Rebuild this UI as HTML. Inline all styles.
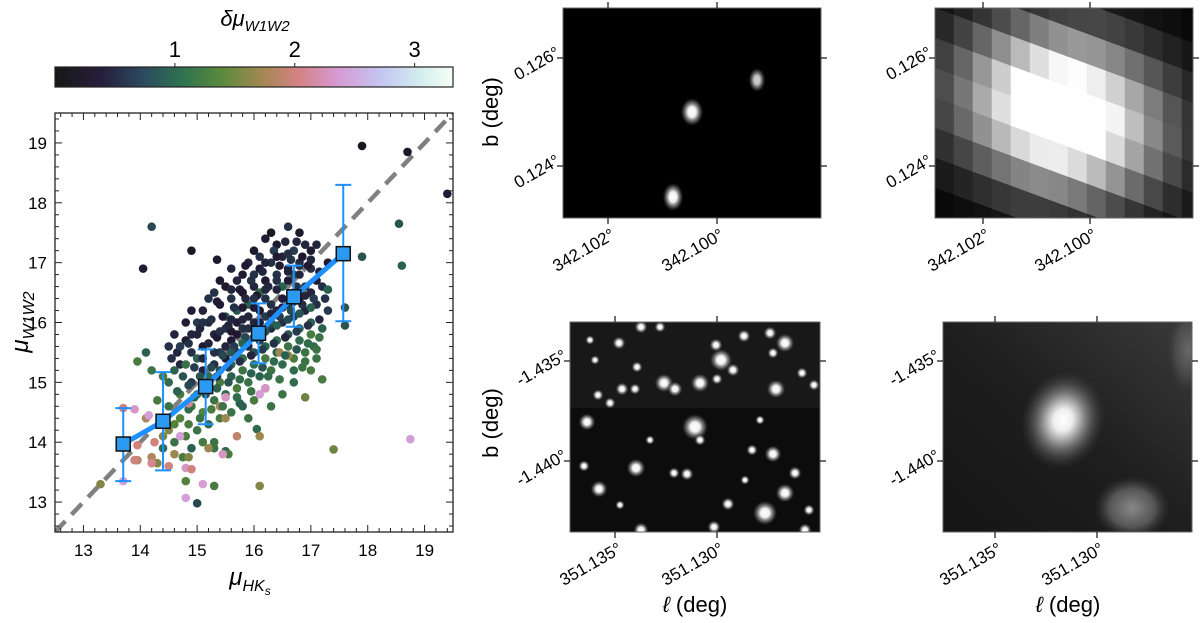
<!DOCTYPE html>
<html><head><meta charset="utf-8"><title>Distance modulus comparison</title>
<style>
html,body{margin:0;padding:0;background:#fff;}
svg{display:block;font-family:"Liberation Sans","DejaVu Sans",sans-serif;}
</style></head>
<body>
<svg id="fig" width="1200" height="623" viewBox="0 0 1200 623" xmlns="http://www.w3.org/2000/svg">
<defs>
  <linearGradient id="cmap" x1="0" x2="1" y1="0" y2="0">
    <stop offset="0" stop-color="#171717"/>
    <stop offset="0.12" stop-color="#271f3d"/>
    <stop offset="0.22" stop-color="#2b4a5e"/>
    <stop offset="0.32" stop-color="#2f7350"/>
    <stop offset="0.42" stop-color="#5c8a3d"/>
    <stop offset="0.52" stop-color="#a28852"/>
    <stop offset="0.61" stop-color="#d48282"/>
    <stop offset="0.71" stop-color="#d69ad2"/>
    <stop offset="0.82" stop-color="#c4c6f2"/>
    <stop offset="0.92" stop-color="#d4eeee"/>
    <stop offset="1" stop-color="#f6fff6"/>
  </linearGradient>
  <radialGradient id="star"><stop offset="0" stop-color="#fff"/><stop offset="0.35" stop-color="#f0f0f0"/><stop offset="0.7" stop-color="#777" stop-opacity="0.6"/><stop offset="1" stop-color="#000" stop-opacity="0"/></radialGradient>
  <radialGradient id="blob"><stop offset="0" stop-color="#fff"/><stop offset="0.22" stop-color="#eee"/><stop offset="0.45" stop-color="#999"/><stop offset="0.75" stop-color="#555" stop-opacity="0.6"/><stop offset="1" stop-color="#333" stop-opacity="0"/></radialGradient>
  <radialGradient id="blob2"><stop offset="0" stop-color="#888"/><stop offset="0.6" stop-color="#555"/><stop offset="1" stop-color="#333" stop-opacity="0"/></radialGradient>
  <linearGradient id="p4bg" x1="0" y1="1" x2="1" y2="0"><stop offset="0" stop-color="#151515"/><stop offset="0.5" stop-color="#1e1e1e"/><stop offset="1" stop-color="#3a3a3a"/></linearGradient>
  <clipPath id="clip1"><rect x="563" y="8" width="258" height="210"/></clipPath>
  <clipPath id="clip2"><rect x="935" y="8" width="258" height="210"/></clipPath>
  <clipPath id="clip3"><rect x="570" y="322" width="250" height="210"/></clipPath>
  <clipPath id="clip4"><rect x="943" y="322" width="249" height="210"/></clipPath>
  <clipPath id="clipS"><rect x="55" y="113" width="398" height="419"/></clipPath>
</defs>

<g>
  <rect x="55" y="67" width="398" height="20" fill="url(#cmap)" stroke="#222" stroke-width="1.2"/>
  <text x="255" y="26" font-size="22" text-anchor="middle" font-style="italic">δμ<tspan font-size="15" dy="5">W1W2</tspan></text>
  <g id="cbticks"></g>
</g>

<g>
  <rect x="55" y="113" width="398" height="419" fill="#fff"/>
  <g id="scatter" clip-path="url(#clipS)"></g>
  <rect x="55" y="113" width="398" height="419" fill="none" stroke="#222" stroke-width="1.3"/>
  <g id="axes"></g>
  <text x="250" y="585" font-size="24" text-anchor="middle" font-style="italic">μ<tspan font-size="16" dy="6">HK</tspan><tspan font-size="12" dy="4">s</tspan></text>
  <text transform="translate(28,322) rotate(-90)" font-size="24" text-anchor="middle" font-style="italic">μ<tspan font-size="16" dy="6">W1W2</tspan></text>
</g>

<g>
  <rect x="563" y="8" width="258" height="210" fill="#000"/>
  <g clip-path="url(#clip1)">
    <ellipse cx="692" cy="112" rx="12" ry="15" fill="url(#star)"/>
    <ellipse cx="757" cy="80" rx="9" ry="13" fill="url(#star)" opacity="0.8"/>
    <ellipse cx="673" cy="197" rx="11" ry="15" fill="url(#star)"/>
  </g>
  <rect x="563" y="8" width="258" height="210" fill="none" stroke="#666" stroke-width="1"/>
</g>
<g>
  <rect x="935" y="8" width="258" height="210" fill="#000"/>
  <g id="p2" clip-path="url(#clip2)"></g>
  <rect x="935" y="8" width="258" height="210" fill="none" stroke="#666" stroke-width="1"/>
</g>
<g>
  <rect x="570" y="322" width="250" height="210" fill="#0c0c0c"/>
  <rect x="570" y="322" width="250" height="86" fill="#181818"/>
  <g id="p3" clip-path="url(#clip3)"></g>
  <rect x="570" y="322" width="250" height="210" fill="none" stroke="#666" stroke-width="1"/>
</g>
<g>
  <rect x="943" y="322" width="249" height="210" fill="url(#p4bg)"/>
  <g clip-path="url(#clip4)">
    <ellipse cx="1063" cy="420" rx="42" ry="50" fill="url(#blob)" transform="rotate(15 1063 420)"/>
    <ellipse cx="1132" cy="508" rx="38" ry="32" fill="url(#blob2)"/>
    <ellipse cx="1188" cy="350" rx="22" ry="45" fill="url(#blob2)" opacity="0.6"/>
  </g>
  <rect x="943" y="322" width="249" height="210" fill="none" stroke="#666" stroke-width="1"/>
</g>
<g id="wcs"></g>
<text transform="translate(498,112) rotate(-90)" font-size="22" text-anchor="middle">b (deg)</text>
<text transform="translate(498,423) rotate(-90)" font-size="22" text-anchor="middle">b (deg)</text>
<text x="695" y="612" font-size="22" text-anchor="middle"><tspan font-style="italic">ℓ</tspan> (deg)</text>
<text x="1068" y="612" font-size="22" text-anchor="middle"><tspan font-style="italic">ℓ</tspan> (deg)</text>
</svg>

<script>
// ---- chart data ----
const scatterData = "15.9 17.0 .5;16.0 17.2 .3;16.2 17.4 .4;16.3 17.5 .2;16.6 17.6 .6;16.8 17.5 .3;16.9 17.3 .5;17.0 17.2 .4;16.7 17.2 .7;16.5 17.1 .5;16.3 17.0 .6;16.1 16.9 .4;15.7 16.7 .5;15.5 16.6 .3;15.3 16.5 .6;15.1 16.2 .5;14.9 16.2 .4;15.0 16.0 .7;15.2 16.0 .5;15.4 16.3 .4;15.6 16.4 .6;15.8 16.5 .3;16.0 16.6 .5;16.2 16.7 .4;16.4 16.8 .6;16.6 16.9 .3;16.8 17.0 .5;17.0 16.9 .6;17.1 16.7 .4;16.9 16.6 .7;16.7 16.5 .5;16.5 16.4 .4;16.3 16.3 .6;16.1 16.2 .3;15.9 16.1 .5;15.7 16.0 .4;15.5 15.9 .6;15.3 15.8 .5;15.1 15.6 .4;14.9 15.5 .6;14.7 15.3 .5;14.8 15.7 .3;15.0 15.8 .5;15.4 15.5 .7;15.6 15.7 .4;15.8 15.9 .6;16.0 16.0 .5;16.2 16.1 .7;16.4 16.2 .5;16.6 16.3 .6;16.8 16.4 .4;17.0 16.5 .5;17.2 16.6 .6;17.3 17.0 .4;17.1 17.3 .5;16.4 17.3 .3;16.1 17.1 .6;15.8 16.8 .4;15.6 16.9 .5;15.4 16.7 .3;15.2 16.4 .6;14.8 16.0 .4;14.6 15.8 .5;14.5 15.6 .6;14.9 15.0 .7;15.1 15.2 .5;15.3 15.3 .6;15.5 15.4 .4;15.7 15.5 .6;15.9 15.6 .5;16.1 15.7 .7;16.3 15.9 .5;16.5 16.0 .6;16.7 16.1 .7;16.9 16.2 .5;17.1 16.3 .6;17.3 16.2 .7;14.05 16.9 .4;14.9 17.2 .2;15.35 17.05 .3;17.9 18.95 .1;18.7 18.85 .2;19.4 18.15 .4;14.2 17.6 .8;18.55 17.65 .9;18.6 16.95 1.0;17.9 17.1 .9;17.6 16.25 .9;15.0 14.8 1.2;15.2 14.9 1.1;15.4 15.0 1.3;15.6 15.1 1.0;15.8 15.2 1.2;16.0 15.3 1.1;16.2 15.4 1.3;16.4 15.5 1.0;16.6 15.6 1.2;16.8 15.7 1.1;17.0 15.8 1.3;17.2 15.9 1.0;17.1 15.4 1.2;17.2 15.05 1.3;16.5 14.8 1.2;16.2 14.9 1.1;16.0 14.7 1.3;15.8 14.6 1.0;15.6 14.5 1.2;15.4 14.4 1.3;15.2 14.3 1.1;15.0 14.2 1.2;14.8 14.1 1.3;14.6 14.0 1.2;14.4 13.9 1.1;14.9 13.9 1.0;15.1 14.0 1.3;15.3 13.9 1.2;15.5 13.85 1.1;14.7 14.4 1.4;14.5 14.6 1.2;14.3 14.7 1.3;14.2 15.2 1.2;14.1 15.5 1.0;13.95 15.35 1.3;14.5 15.0 1.1;14.7 14.8 1.3;14.9 14.6 1.2;15.1 14.5 1.4;15.3 14.7 1.2;15.5 14.8 1.1;15.7 14.9 1.3;15.9 15.0 1.2;16.1 15.1 1.0;16.3 15.2 1.2;16.5 15.3 1.1;16.7 15.4 1.3;16.9 15.5 1.2;17.05 15.6 1.1;16.8 15.9 1.0;16.6 15.8 0.9;16.4 15.7 1.1;16.2 15.6 1.0;16.0 15.5 0.9;15.8 15.4 1.1;15.6 15.3 1.0;15.4 15.2 0.9;15.2 15.1 1.1;15.0 15.4 1.0;14.8 15.3 1.2;14.6 15.2 1.0;14.4 15.1 1.3;15.5 16.1 1.0;15.7 16.2 0.9;16.5 16.6 1.0;16.7 16.8 0.9;16.1 16.5 1.1;15.9 16.3 1.0;16.3 16.0 0.9;17.0 16.0 1.0;15.3 14.0 1.2;15.55 13.8 1.3;14.85 14.55 1.1;17.4 13.88 1.5;15.3 13.27 1.3;15.0 12.98 0.8;14.8 13.35 1.4;16.05 14.22 1.1;14.75 13.75 1.3;14.3 13.65 1.6;14.2 13.75 1.8;13.95 13.7 1.9;14.1 14.4 1.8;14.4 14.1 1.6;14.6 13.8 1.7;14.85 13.75 1.6;15.2 13.9 1.7;16.1 14.1 1.7;15.7 14.1 1.9;16.1 13.27 1.6;13.3 13.3 1.6;15.5 14.4 1.7;15.4 14.6 1.8;16.45 15.5 1.7;16.6 15.45 1.7;14.5 14.2 1.6;16.9 14.75 1.5;13.7 14.57 2.0;13.9 14.55 2.3;13.95 13.95 2.0;14.15 14.45 2.4;13.9 13.7 2.0;14.2 13.65 2.1;14.5 13.6 2.0;14.8 13.07 2.4;14.8 13.57 2.3;14.9 13.55 2.0;15.1 13.3 2.4;15.45 13.8 2.3;15.5 14.75 2.3;16.1 14.8 2.4;16.2 14.9 2.3;18.75 14.05 2.4;14.7 14.1 2.4;13.7 13.35 2.4;14.25 14.0 2.0;14.85 14.65 2.1;15.5 15.6 .5;15.7 15.8 .4;15.9 15.9 .6;16.1 16.0 .4;16.3 16.15 .5;16.5 16.25 .4;16.7 16.35 .6;16.9 16.45 .5;15.3 15.5 .6;15.1 15.4 .5;15.6 15.85 .3;15.8 16.05 .5;16.0 16.25 .4;16.2 16.4 .6;16.4 16.55 .5;16.6 16.7 .4;16.8 16.8 .5;15.45 16.1 .4;15.65 16.25 .6;15.85 16.4 .5;16.05 16.45 .3;16.25 16.6 .5;16.45 16.95 .4;16.65 17.05 .6;16.85 17.1 .3;16.55 17.35 .5;16.35 17.2 .7;16.15 16.85 .5;15.95 16.7 .6;15.75 16.55 .4;15.25 16.05 .6;15.05 15.9 .5;14.85 15.65 .6;14.65 15.5 .5;14.95 15.25 .7;15.15 15.0 .6;15.35 15.1 .5;15.55 15.25 .7;15.75 15.35 .6;15.95 15.45 .5;16.15 15.55 .7;16.35 15.65 .6;16.55 15.75 .5;16.75 15.85 .7;16.95 15.95 .6;17.15 16.05 .5;17.25 16.4 .6;17.15 16.85 .5;16.95 16.95 .4;16.75 16.6 .6;15.35 15.75 .4;15.55 15.95 .5;16.3 14.6 1.2;16.7 15.0 1.1;17.0 15.2 1.3;16.85 15.25 1.2;15.9 14.4 1.2;15.75 14.65 1.0;17.3 16.55 1.0;17.6 15.95 0.9;15.45 15.45 .8;15.65 15.6 .7;15.85 15.75 .8;16.05 15.85 .6;16.25 15.95 .8;16.45 16.1 .7;16.65 16.2 .8;16.85 16.3 .6;17.05 16.4 .7;15.25 15.25 .8;15.05 15.1 .9;14.85 14.95 .8;14.65 14.85 1.0;15.6 15.5 .9;15.8 15.65 1.0;16.0 15.75 .8;16.2 15.85 .9;16.4 15.95 1.0;16.6 16.05 .8;16.8 16.15 .9;17.0 16.25 1.0;15.2 15.65 .5;15.4 15.85 .6;15.6 16.05 .5;15.8 16.25 .4;16.0 16.4 .6;16.2 16.55 .5;16.4 16.7 .6;16.6 16.85 .5;16.8 16.95 .6;17.0 17.05 .5;16.0 16.8 .6;16.2 17.0 .5;16.4 17.1 .4;16.6 17.15 .6;16.75 17.35 .5;15.85 16.95 .4;15.6 16.55 .5;15.35 16.35 .4;15.1 16.0 .6;14.9 15.8 .5;14.7 15.6 .7;14.55 15.4 .6;14.75 15.1 .9;14.95 14.75 1.0;15.15 14.8 .9;15.35 14.9 1.0;15.55 15.0 .9;15.75 15.05 1.1;15.95 15.15 1.0;16.15 15.25 .9;16.35 15.35 1.1;16.55 15.45 1.0;16.75 15.55 .9;16.95 15.65 1.1;17.15 15.75 1.2;17.1 15.55 1.2;16.9 15.35 1.2;16.7 15.2 1.1;16.45 15.05 1.2;16.25 15.1 1.1;15.95 14.85 1.2;15.7 14.75 1.1;15.45 14.6 1.2;15.25 14.55 1.3;15.05 14.4 1.2;14.85 14.3 1.3;14.6 14.3 1.4;14.35 14.3 1.5";
const binX = [13.7, 14.4, 15.15, 16.08, 16.7, 17.57];
const binY = [13.97, 14.35, 14.93, 15.82, 16.43, 17.15];
const binLo = [13.35, 13.53, 14.3, 15.32, 15.93, 16.02];
const binHi = [14.57, 15.17, 15.55, 16.32, 16.95, 18.3];
const xTicks = [13, 14, 15, 16, 17, 18, 19];
const yTicks = [13, 14, 15, 16, 17, 18, 19];
const cbTicks = [1, 2, 3];
const oneToOne = [12.5, 19.5];

const NS = "http://www.w3.org/2000/svg";
function mk(tag, attrs, parent) { const e = document.createElementNS(NS, tag); for (const k in attrs) e.setAttribute(k, attrs[k]); parent.appendChild(e); return e; }
const X0 = 12.5, X1 = 19.5, Y0 = 12.5, Y1 = 19.5;
function sx(v) { return 55 + (v - X0) / (X1 - X0) * 398; }
function sy(v) { return 532 - (v - Y0) / (Y1 - Y0) * 419; }
function cx(v) { return 55 + v / 3.32 * 398; }

const cstops = [[0,[23,23,23]],[0.4,[33,26,52]],[0.73,[38,62,82]],[1.06,[43,105,78]],[1.4,[85,130,58]],[1.73,[162,136,82]],[2.03,[212,130,130]],[2.36,[214,154,210]],[2.72,[196,198,242]],[3.05,[212,238,238]],[3.32,[246,255,246]]];
function cmap(d) {
  for (let i = 1; i < cstops.length; i++) {
    if (d <= cstops[i][0]) { const a = cstops[i-1], b = cstops[i], t = (d - a[0]) / (b[0] - a[0]);
      return "rgb(" + a[1].map((c, j) => Math.round(c + (b[1][j] - c) * t)).join(",") + ")"; }
  }
  return "rgb(246,255,246)";
}

const cbg = document.getElementById("cbticks");
cbTicks.forEach(t => {
  const l = mk("line", {x1: cx(t), x2: cx(t), y1: 63, y2: 67, stroke: "#222", "stroke-width": 1}, cbg);
  
  
  const tx = mk("text", {x: cx(t), y: 57, "font-size": 22, "text-anchor": "middle"}, cbg);
  tx.textContent = t;
  
  
});

const sg = document.getElementById("scatter");
const dl = mk("line", {x1: sx(oneToOne[0]), y1: sy(oneToOne[0]), x2: sx(oneToOne[1]), y2: sy(oneToOne[1]), stroke: "#808080", "stroke-width": 4.5, "stroke-dasharray": "15 9"}, sg);


const ptsX = [], ptsY = [], ptsD = [];
scatterData.split(";").forEach(s => { const p = s.trim().split(/\s+/).map(Number); ptsX.push(p[0]); ptsY.push(p[1]); ptsD.push(p[2]); });
for (let i = 0; i < ptsX.length; i++) {
  const c = mk("circle", {cx: sx(ptsX[i]), cy: sy(ptsY[i]), r: 4.3, fill: cmap(ptsD[i])}, sg);
  
  
}
const bl = mk("polyline", {points: binX.map((x, i) => sx(x) + "," + sy(binY[i])).join(" "), fill: "none", stroke: "#1e90ff", "stroke-width": 5}, sg);


for (let i = 0; i < binX.length; i++) {
  const g = mk("g", {}, sg);
  
  
  const x = sx(binX[i]);
  mk("line", {x1: x, x2: x, y1: sy(binLo[i]), y2: sy(binHi[i]), stroke: "#1e90ff", "stroke-width": 2}, g);
  mk("line", {x1: x - 8, x2: x + 8, y1: sy(binLo[i]), y2: sy(binLo[i]), stroke: "#1e90ff", "stroke-width": 2}, g);
  mk("line", {x1: x - 8, x2: x + 8, y1: sy(binHi[i]), y2: sy(binHi[i]), stroke: "#1e90ff", "stroke-width": 2}, g);
  mk("rect", {x: x - 7, y: sy(binY[i]) - 7, width: 14, height: 14, fill: "#2b9af3", stroke: "#111", "stroke-width": 1.5}, g);
}

const ax = document.getElementById("axes");
for (let v = 12.6; v < 19.5; v += 0.2) {
  const r = Math.round(v * 10) / 10, major = Math.abs(r - Math.round(r)) < 1e-6, L = major ? 7 : 4;
  const xx = sx(r), yy = sy(r);
  mk("line", {x1: xx, x2: xx, y1: 532, y2: 532 - L, stroke: "#222"}, ax);
  mk("line", {x1: xx, x2: xx, y1: 113, y2: 113 + L, stroke: "#222"}, ax);
  mk("line", {x1: 55, x2: 55 + L, y1: yy, y2: yy, stroke: "#222"}, ax);
  mk("line", {x1: 453, x2: 453 - L, y1: yy, y2: yy, stroke: "#222"}, ax);
}
xTicks.forEach(t => {
  const tx = mk("text", {x: sx(t), y: 556, "font-size": 17, "text-anchor": "middle"}, ax);
  tx.textContent = t;
  
  
});
yTicks.forEach(t => {
  const tx = mk("text", {x: 47, y: sy(t) + 6, "font-size": 17, "text-anchor": "end"}, ax);
  tx.textContent = t;
  
  
});

// panel 2 pixel grid
const p2 = document.getElementById("p2");
for (let c = -2; c < 16; c++) {
  for (let r = -4; r < 12; r++) {
    const x0 = 935 + c * 19, y0 = 8 + r * 30 + c * 7;
    const mx = x0 + 9.5, my = y0 + 18;
    const dx = mx - 1062, dy = my - 112;
    const a = dx * 0.9 + dy * 0.44, b = -dx * 0.44 + dy * 0.9;
    const I = Math.exp(-(a * a / (2 * 72 * 72) + b * b / (2 * 55 * 55)));
    const g = Math.min(255, Math.round(330 * I));
    const q = mk("polygon", {points: `${x0},${y0} ${x0+19},${y0+7} ${x0+19},${y0+37} ${x0},${y0+30}`, fill: `rgb(${g},${g},${g})`, stroke: `rgb(${g},${g},${g})`, "stroke-width": 0.5}, p2);
    
    
  }
}

const p3 = document.getElementById("p3");
const stars = [[721,360,12],[785,343,10],[695,427,14],[664,383,10],[700,383,10],[776,389,10],[675,389,8],[587,422,9],[636,468,10],[773,454,9],[599,489,9],[785,493,10],[765,513,13],[619,343,7],[641,327,7],[716,345,7],[744,336,7],[770,333,7],[637,367,6],[622,389,7],[635,389,6],[717,379,6],[733,370,7],[687,474,7],[795,473,7],[728,504,7],[752,450,6],[714,527,7],[641,530,8],[584,466,6],[674,473,6],[802,373,6],[814,385,6],[598,395,6],[610,403,6],[773,353,6],[809,510,6],[660,327,6],[805,530,7],[595,360,5],[650,440,5],[760,420,5],[590,340,5],[700,440,6],[620,505,5],[745,480,5]];
stars.forEach(s => {
  const c = mk("circle", {cx: s[0], cy: s[1], r: s[2], fill: "url(#star)"}, p3);
  
  
});

const wcs = document.getElementById("wcs");
const panels = [
  {x: 563, y: 8, w: 258, h: 210, xt: [608, 717], xl: ["342.102°", "342.100°"], yt: [58, 166], yl: ["0.126°", "0.124°"]},
  {x: 935, y: 8, w: 258, h: 210, xt: [983, 1090], xl: ["342.102°", "342.100°"], yt: [58, 166], yl: ["0.126°", "0.124°"]},
  {x: 570, y: 322, w: 250, h: 210, xt: [615, 717], xl: ["351.135°", "351.130°"], yt: [361, 461], yl: ["-1.435°", "-1.440°"]},
  {x: 943, y: 322, w: 249, h: 210, xt: [995, 1097], xl: ["351.135°", "351.130°"], yt: [361, 461], yl: ["-1.435°", "-1.440°"]}
];
panels.forEach(p => {
  p.xt.forEach((t, i) => {
    mk("line", {x1: t, x2: t, y1: p.y - 6, y2: p.y, stroke: "#222", "stroke-width": 1.3}, wcs);
    mk("line", {x1: t, x2: t, y1: p.y + p.h, y2: p.y + p.h + 6, stroke: "#222", "stroke-width": 1.3}, wcs);
    const tx = mk("text", {transform: `translate(${t + 8},${p.y + p.h + 20}) rotate(-30)`, "font-size": 17, "text-anchor": "end"}, wcs);
    tx.textContent = p.xl[i];
    
    
  });
  p.yt.forEach((t, i) => {
    mk("line", {x1: p.x + p.w, x2: p.x + p.w + 6, y1: t, y2: t, stroke: "#222", "stroke-width": 1.3}, wcs);
    mk("line", {x1: p.x - 6, x2: p.x, y1: t, y2: t, stroke: "#222", "stroke-width": 1.3}, wcs);
    const tx = mk("text", {transform: `translate(${p.x - 2},${t - 2}) rotate(-30)`, "font-size": 17, "text-anchor": "end"}, wcs);
    tx.textContent = p.yl[i];
    
    
  });
});
</script>
</body></html>
